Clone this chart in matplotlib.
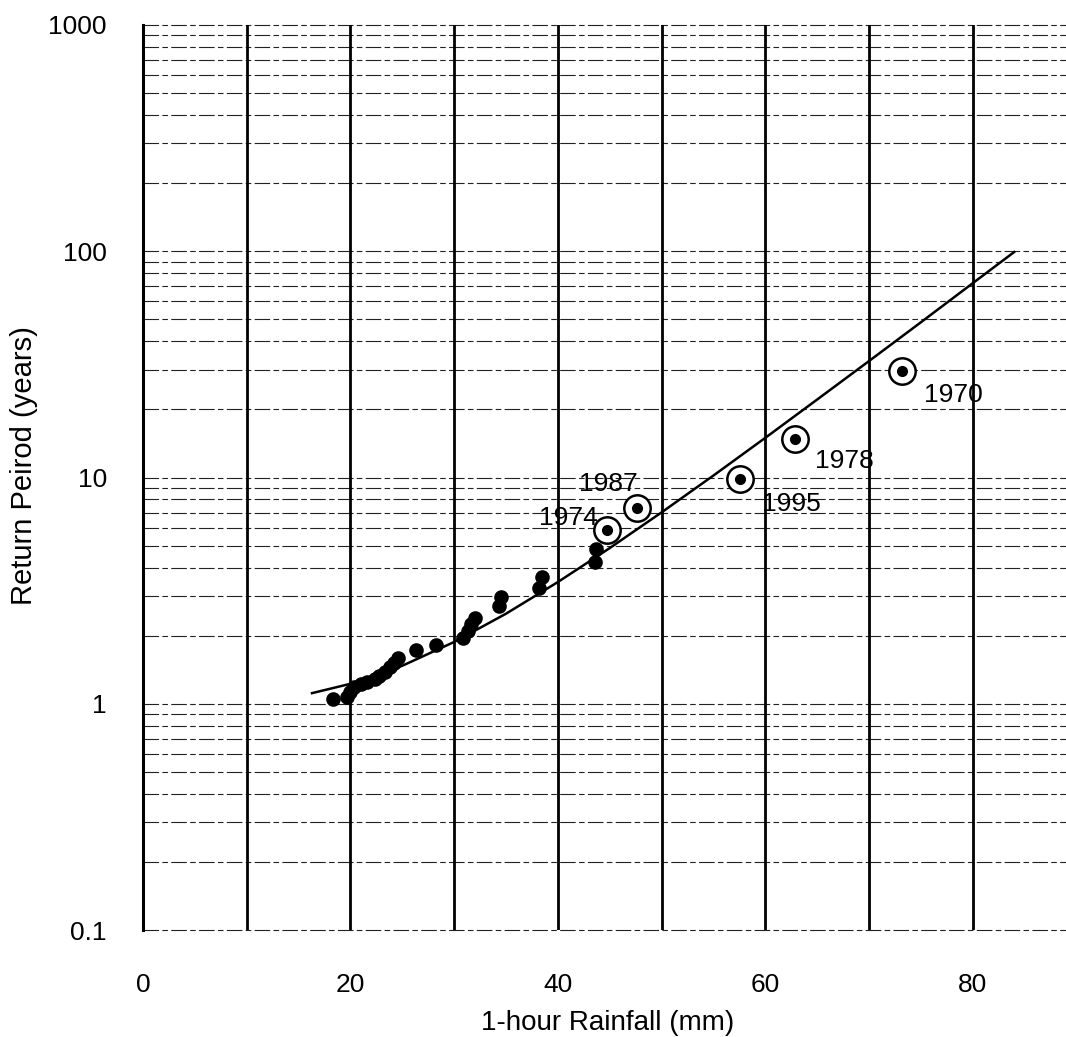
"""
Return period vs. 1-hour rainfall, annual maxima with fitted curve
"""

import matplotlib
matplotlib.use("Agg")
import matplotlib.pyplot as plt
from matplotlib.ticker import FixedLocator, FixedFormatter, NullLocator

plt.rcParams["font.family"] = ["Liberation Sans", "DejaVu Sans"]

# ── Data ──────────────────────────────────────────────────────────────────────
# annual maxima (mm) and plotting-position return periods (years)
rain_mm = [18.3, 19.7, 20.0, 20.3, 21.0, 21.6, 22.4, 22.8, 23.3, 23.8,
           24.2, 24.6, 26.3, 28.3, 30.9, 31.3, 31.6, 32.0, 34.3, 34.5,
           38.2, 38.5, 43.6, 43.7]
period_yr = [1.05, 1.07, 1.13, 1.18, 1.22, 1.25, 1.28, 1.33, 1.38, 1.45,
             1.52, 1.60, 1.72, 1.82, 1.95, 2.10, 2.25, 2.40, 2.70, 2.95,
             3.25, 3.65, 4.25, 4.85]

# notable storms, circled and labelled
event_year = ["1974", "1987", "1995", "1978", "1970"]
event_mm = [44.7, 47.6, 57.6, 62.9, 73.2]
event_yr = [5.85, 7.34, 9.8, 14.8, 29.5]

# fitted frequency curve
fit_mm = [16.3, 20, 25, 30, 35, 40, 45, 50, 55, 60, 65, 70, 75, 80, 84]
fit_yr = [1.114, 1.225, 1.472, 1.875, 2.50, 3.45, 4.875, 7.01, 10.2,
          14.97, 22.1, 32.7, 48.5, 72.2, 99.2]

x_ticks = [0, 20, 40, 60, 80]
y_ticks = [0.1, 1, 10, 100, 1000]
y_labels = ["0.1", "1", "10", "100", "1000"]

# ── Canvas ────────────────────────────────────────────────────────────────────
fig = plt.figure(figsize=(10.66, 10.37), dpi=100, facecolor="white")
ax = fig.add_axes([143 / 1066, 107 / 1037, 923 / 1066, 905 / 1037])
ax.set_yscale("log")
ax.set_xlim(0, 89)
ax.set_ylim(0.1, 1000)

for s in ["top", "right", "bottom"]:
    ax.spines[s].set_visible(False)
ax.spines["left"].set_linewidth(2.2)
ax.spines["left"].set_color("black")

# horizontal grid: every 1..9 of each decade, thin broken lines
for dec in [0.1, 1, 10, 100]:
    for k in range(1, 10):
        ax.axhline(dec * k, color="#222222", lw=0.8,
                   dashes=(14, 3, 5, 3), zorder=1, clip_on=False)
ax.axhline(1000, color="#222222", lw=0.8, dashes=(14, 3, 5, 3),
           zorder=1, clip_on=False)

# vertical grid: heavy solid lines every 10 mm
for xv in range(10, 90, 10):
    ax.axvline(xv, color="black", lw=2.0, zorder=2)

# ── Marks ─────────────────────────────────────────────────────────────────────
ax.plot(fit_mm, fit_yr, color="black", lw=1.8, zorder=4)
ax.plot(rain_mm, period_yr, "o", color="black", ms=9.5, zorder=5)

ax.plot(event_mm, event_yr, "o", color="black", ms=7, zorder=6)
ax.plot(event_mm, event_yr, "o", mfc="white", mec="black", mew=1.8,
        ms=19, zorder=5)

label_off = [(-38, 12), (-28, 24), (51, -25), (49, -22), (51, -24)]
for yr, xm, ym, (dx, dy) in zip(event_year, event_mm, event_yr, label_off):
    ax.annotate(yr, (xm, ym), xytext=(dx * 0.72, dy * 0.72),
                textcoords="offset points", ha="center", va="center",
                fontsize=19, color="black", zorder=7)

# ── Axes text ─────────────────────────────────────────────────────────────────
ax.xaxis.set_major_locator(FixedLocator(x_ticks))
ax.yaxis.set_major_locator(FixedLocator(y_ticks))
ax.yaxis.set_major_formatter(FixedFormatter(y_labels))
ax.yaxis.set_minor_locator(NullLocator())
ax.tick_params(axis="both", length=0, labelsize=19)
ax.tick_params(axis="x", pad=31)
ax.tick_params(axis="y", pad=26)

ax.set_xlabel("1-hour Rainfall (mm)", fontsize=20)
ax.set_ylabel("Return Peirod (years)", fontsize=21)
ax.xaxis.set_label_coords(465 / 923, -80 / 905)
ax.yaxis.set_label_coords(-105 / 923, 464 / 905)

fig.savefig("out.png", dpi=100, facecolor="white")
